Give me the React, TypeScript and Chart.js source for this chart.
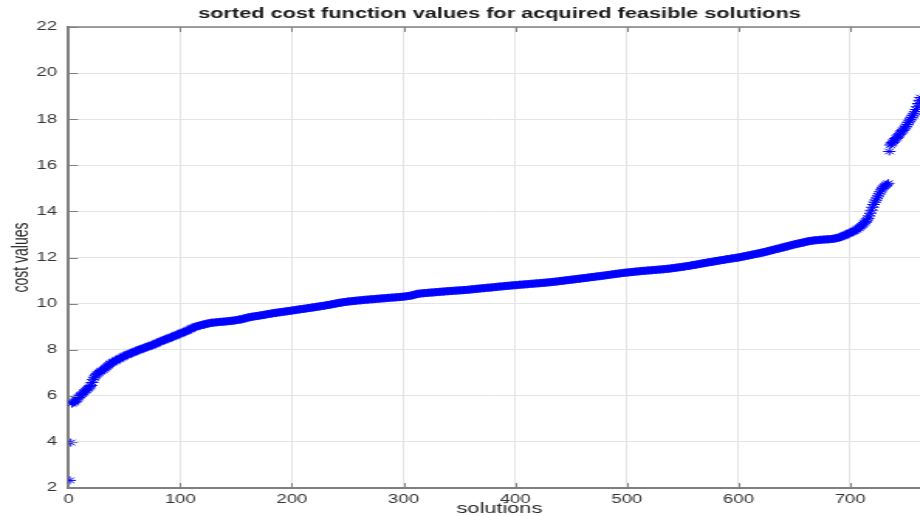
import { useEffect, useRef } from "react";
import { Chart, registerables } from "chart.js";

Chart.register(...registerables);

const titleText = "sorted cost function values for acquired feasible solutions";
const xLabelText = "solutions";
const yLabelText = "cost values";
const xTickValues = [0, 100, 200, 300, 400, 500, 600, 700];
const yTickValues = [2, 4, 6, 8, 10, 12, 14, 16, 18, 20, 22];

// sorted cost values, solutions 1..100
const costs001 = [
  2.33, 3.97, 5.66, 5.70, 5.72, 5.76, 5.82, 5.87, 5.93, 6.00,
  6.03, 6.07, 6.12, 6.16, 6.22, 6.26, 6.30, 6.34, 6.40, 6.45,
  6.58, 6.70, 6.78, 6.86, 6.92, 6.96, 7.00, 7.04, 7.07, 7.10,
  7.13, 7.17, 7.21, 7.25, 7.29, 7.33, 7.38, 7.41, 7.44, 7.47,
  7.49, 7.52, 7.54, 7.57, 7.60, 7.62, 7.65, 7.67, 7.70, 7.72,
  7.75, 7.77, 7.79, 7.81, 7.83, 7.85, 7.87, 7.89, 7.91, 7.93,
  7.95, 7.97, 7.99, 8.01, 8.03, 8.04, 8.06, 8.08, 8.10, 8.12,
  8.13, 8.15, 8.17, 8.18, 8.20, 8.22, 8.24, 8.26, 8.28, 8.31,
  8.33, 8.35, 8.37, 8.39, 8.41, 8.43, 8.45, 8.47, 8.48, 8.50,
  8.52, 8.54, 8.56, 8.58, 8.60, 8.62, 8.64, 8.66, 8.68, 8.70,
];
// solutions 101..200
const costs101 = [
  8.72, 8.74, 8.76, 8.78, 8.80, 8.82, 8.84, 8.87, 8.89, 8.92,
  8.94, 8.96, 8.98, 9.00, 9.02, 9.03, 9.04, 9.05, 9.07, 9.08,
  9.09, 9.10, 9.12, 9.13, 9.14, 9.15, 9.16, 9.17, 9.17, 9.18,
  9.18, 9.19, 9.19, 9.20, 9.20, 9.21, 9.21, 9.21, 9.22, 9.22,
  9.23, 9.23, 9.24, 9.24, 9.25, 9.25, 9.26, 9.26, 9.27, 9.28,
  9.29, 9.30, 9.31, 9.31, 9.32, 9.33, 9.35, 9.36, 9.37, 9.39,
  9.40, 9.41, 9.42, 9.43, 9.44, 9.44, 9.45, 9.46, 9.46, 9.47,
  9.48, 9.49, 9.50, 9.50, 9.51, 9.52, 9.53, 9.54, 9.55, 9.56,
  9.56, 9.57, 9.58, 9.59, 9.60, 9.60, 9.61, 9.62, 9.62, 9.63,
  9.64, 9.64, 9.65, 9.66, 9.66, 9.67, 9.68, 9.68, 9.69, 9.70,
];
// solutions 201..300
const costs201 = [
  9.71, 9.71, 9.72, 9.73, 9.74, 9.74, 9.75, 9.76, 9.76, 9.77,
  9.78, 9.78, 9.79, 9.80, 9.81, 9.81, 9.82, 9.83, 9.83, 9.84,
  9.85, 9.86, 9.87, 9.87, 9.88, 9.89, 9.90, 9.90, 9.91, 9.92,
  9.93, 9.94, 9.94, 9.95, 9.96, 9.97, 9.98, 9.99, 10.00, 10.01,
  10.02, 10.03, 10.04, 10.04, 10.05, 10.06, 10.07, 10.07, 10.08, 10.09,
  10.09, 10.10, 10.10, 10.11, 10.11, 10.12, 10.12, 10.13, 10.13, 10.14,
  10.14, 10.15, 10.15, 10.16, 10.16, 10.17, 10.17, 10.17, 10.18, 10.18,
  10.19, 10.19, 10.19, 10.20, 10.20, 10.21, 10.21, 10.21, 10.22, 10.22,
  10.23, 10.23, 10.23, 10.24, 10.24, 10.25, 10.25, 10.25, 10.26, 10.26,
  10.26, 10.27, 10.27, 10.28, 10.28, 10.28, 10.29, 10.29, 10.30, 10.30,
];
// solutions 301..400
const costs301 = [
  10.31, 10.31, 10.32, 10.33, 10.33, 10.34, 10.35, 10.36, 10.37, 10.39,
  10.41, 10.42, 10.43, 10.43, 10.44, 10.44, 10.45, 10.45, 10.46, 10.46,
  10.46, 10.47, 10.47, 10.48, 10.48, 10.48, 10.49, 10.49, 10.50, 10.50,
  10.50, 10.51, 10.51, 10.52, 10.52, 10.52, 10.53, 10.53, 10.54, 10.54,
  10.54, 10.55, 10.55, 10.55, 10.56, 10.56, 10.56, 10.57, 10.57, 10.57,
  10.58, 10.58, 10.58, 10.59, 10.59, 10.59, 10.60, 10.60, 10.61, 10.61,
  10.62, 10.62, 10.63, 10.63, 10.64, 10.64, 10.65, 10.65, 10.66, 10.66,
  10.67, 10.67, 10.68, 10.68, 10.69, 10.69, 10.69, 10.70, 10.70, 10.71,
  10.71, 10.72, 10.72, 10.73, 10.73, 10.74, 10.74, 10.75, 10.75, 10.76,
  10.76, 10.77, 10.77, 10.77, 10.78, 10.78, 10.79, 10.79, 10.80, 10.80,
];
// solutions 401..500
const costs401 = [
  10.80, 10.81, 10.81, 10.82, 10.82, 10.82, 10.83, 10.83, 10.84, 10.84,
  10.84, 10.85, 10.85, 10.86, 10.86, 10.86, 10.87, 10.87, 10.88, 10.88,
  10.88, 10.89, 10.89, 10.90, 10.90, 10.90, 10.91, 10.91, 10.92, 10.92,
  10.93, 10.93, 10.94, 10.94, 10.95, 10.95, 10.96, 10.96, 10.97, 10.98,
  10.98, 10.99, 10.99, 11.00, 11.01, 11.01, 11.02, 11.02, 11.03, 11.04,
  11.04, 11.05, 11.05, 11.06, 11.07, 11.07, 11.08, 11.08, 11.09, 11.10,
  11.10, 11.11, 11.11, 11.12, 11.13, 11.13, 11.14, 11.15, 11.15, 11.16,
  11.16, 11.17, 11.18, 11.18, 11.19, 11.19, 11.20, 11.21, 11.21, 11.22,
  11.23, 11.23, 11.24, 11.25, 11.25, 11.26, 11.27, 11.27, 11.28, 11.29,
  11.29, 11.30, 11.31, 11.31, 11.32, 11.33, 11.33, 11.34, 11.34, 11.35,
];
// solutions 501..600
const costs501 = [
  11.35, 11.36, 11.36, 11.37, 11.37, 11.38, 11.38, 11.39, 11.39, 11.40,
  11.40, 11.41, 11.41, 11.42, 11.42, 11.42, 11.43, 11.43, 11.44, 11.44,
  11.44, 11.45, 11.45, 11.46, 11.46, 11.46, 11.47, 11.47, 11.48, 11.48,
  11.48, 11.49, 11.49, 11.50, 11.50, 11.51, 11.51, 11.52, 11.52, 11.53,
  11.54, 11.54, 11.55, 11.56, 11.56, 11.57, 11.58, 11.58, 11.59, 11.60,
  11.60, 11.61, 11.62, 11.63, 11.63, 11.64, 11.65, 11.66, 11.67, 11.68,
  11.68, 11.69, 11.70, 11.71, 11.72, 11.73, 11.74, 11.75, 11.75, 11.76,
  11.77, 11.78, 11.79, 11.80, 11.80, 11.81, 11.82, 11.83, 11.84, 11.85,
  11.85, 11.86, 11.87, 11.88, 11.89, 11.89, 11.90, 11.91, 11.92, 11.93,
  11.93, 11.94, 11.95, 11.96, 11.96, 11.97, 11.98, 11.99, 11.99, 12.00,
];
// solutions 601..700
const costs601 = [
  12.01, 12.02, 12.03, 12.04, 12.05, 12.06, 12.07, 12.08, 12.09, 12.10,
  12.11, 12.12, 12.13, 12.14, 12.15, 12.16, 12.17, 12.18, 12.19, 12.20,
  12.21, 12.22, 12.23, 12.24, 12.26, 12.27, 12.28, 12.29, 12.31, 12.32,
  12.33, 12.34, 12.36, 12.37, 12.38, 12.39, 12.40, 12.42, 12.43, 12.44,
  12.45, 12.47, 12.48, 12.49, 12.50, 12.52, 12.53, 12.54, 12.55, 12.57,
  12.58, 12.59, 12.60, 12.61, 12.62, 12.63, 12.64, 12.65, 12.66, 12.68,
  12.69, 12.70, 12.71, 12.72, 12.72, 12.73, 12.74, 12.74, 12.75, 12.75,
  12.76, 12.76, 12.77, 12.77, 12.77, 12.78, 12.78, 12.78, 12.79, 12.79,
  12.79, 12.80, 12.80, 12.81, 12.81, 12.82, 12.83, 12.84, 12.85, 12.87,
  12.88, 12.90, 12.92, 12.94, 12.96, 12.98, 13.01, 13.03, 13.05, 13.07,
];
// solutions 701..768
const costs701 = [
  13.09, 13.11, 13.14, 13.16, 13.19, 13.22, 13.26, 13.29, 13.33, 13.37,
  13.42, 13.46, 13.51, 13.57, 13.63, 13.70, 13.80, 13.92, 14.05, 14.18,
  14.30, 14.40, 14.49, 14.58, 14.67, 14.76, 14.85, 14.93, 15.00, 15.06,
  15.10, 15.14, 15.18, 15.22, 16.60, 16.88, 16.93, 16.99, 17.05, 17.10,
  17.16, 17.21, 17.27, 17.33, 17.39, 17.45, 17.51, 17.57, 17.62, 17.69,
  17.77, 17.85, 17.92, 18.00, 18.07, 18.15, 18.23, 18.32, 18.42, 18.54,
  18.68, 18.82, 18.94, 19.05, 19.16, 19.28, 19.40, 19.52,
];

const sortedCosts = [
  ...costs001, ...costs101, ...costs201, ...costs301,
  ...costs401, ...costs501, ...costs601, ...costs701,
];

const LOGICAL_W = 594;
const LOGICAL_H = 516;
const STRETCH = 920 / LOGICAL_W;
const FONT = '"Liberation Sans", Arial, sans-serif';
const AXIS_COLOR = "#808080";

const matlabFrame = {
  id: "matlabFrame",
  afterDraw(chart: any) {
    const { ctx, chartArea: a, scales } = chart;
    const xs = scales.x;
    const ys = scales.y;
    ctx.save();
    ctx.strokeStyle = AXIS_COLOR;
    ctx.lineWidth = 1.5;
    ctx.beginPath();
    ctx.moveTo(a.left, a.top);
    ctx.lineTo(a.right, a.top);
    ctx.stroke();
    ctx.lineWidth = 1;
    ctx.beginPath();
    for (const t of xTickValues) {
      const px = Math.round(xs.getPixelForValue(t)) + 0.5;
      ctx.moveTo(px, a.bottom);
      ctx.lineTo(px, a.bottom - 5);
      ctx.moveTo(px, a.top);
      ctx.lineTo(px, a.top + 5);
    }
    for (const t of yTickValues) {
      const py = Math.round(ys.getPixelForValue(t)) + 0.5;
      ctx.moveTo(a.left, py);
      ctx.lineTo(a.left + 6, py);
    }
    ctx.stroke();

    ctx.fillStyle = "#1a1a1a";
    ctx.textAlign = "center";
    ctx.textBaseline = "middle";
    ctx.font = `bold 14px ${FONT}`;
    ctx.fillText(titleText, 322.5, 14);
    ctx.font = `14px ${FONT}`;
    ctx.fillStyle = "#262626";
    ctx.fillText(xLabelText, 322.5, 509);
    ctx.translate(14, (a.top + a.bottom) / 2);
    ctx.rotate(-Math.PI / 2);
    ctx.fillText(yLabelText, 0, 0);
    ctx.restore();
  },
};

export default function App() {
  const canvasRef = useRef<HTMLCanvasElement | null>(null);

  useEffect(() => {
    const canvas = canvasRef.current;
    if (!canvas) return;
    const points = sortedCosts.map((v, i) => ({ x: i + 1, y: v }));
    const chart = new Chart(canvas, {
      type: "scatter",
      data: {
        datasets: [
          {
            data: points,
            pointStyle: "star",
            pointRadius: 4,
            pointHoverRadius: 4,
            borderWidth: 1,
            borderColor: "#0000ff",
            backgroundColor: "#0000ff",
          },
        ],
      },
      options: {
        responsive: false,
        animation: false,
        events: [],
        layout: {
          autoPadding: false,
          padding: { top: 27, left: 0, right: 0, bottom: 0 },
        },
        plugins: {
          legend: { display: false },
          tooltip: { enabled: false },
          title: { display: false },
        },
        scales: {
          x: {
            type: "linear",
            min: 0,
            max: 762.5,
            afterFit(scale: any) {
              scale.height = 28;
            },
            grid: { color: "#e4e4e4", lineWidth: 1, drawTicks: false },
            border: { display: true, color: AXIS_COLOR, width: 2 },
            ticks: {
              stepSize: 100,
              includeBounds: false,
              padding: 4,
              color: "#333333",
              font: { family: FONT, size: 12 },
              maxRotation: 0,
            },
          },
          y: {
            type: "linear",
            min: 2,
            max: 22,
            afterFit(scale: any) {
              scale.width = 44.3;
            },
            grid: { color: "#e4e4e4", lineWidth: 1, drawTicks: false },
            border: { display: true, color: AXIS_COLOR, width: 2 },
            ticks: {
              stepSize: 2,
              padding: 7.5,
              color: "#333333",
              font: { family: FONT, size: 12 },
            },
          },
        },
      },
      plugins: [matlabFrame],
    });
    return () => chart.destroy();
  }, []);

  return (
    <canvas
      ref={canvasRef}
      width={LOGICAL_W}
      height={LOGICAL_H}
      style={{
        position: "fixed",
        left: 0,
        top: 0,
        transform: `scaleX(${STRETCH})`,
        transformOrigin: "0 0",
        background: "#ffffff",
      }}
    />
  );
}
